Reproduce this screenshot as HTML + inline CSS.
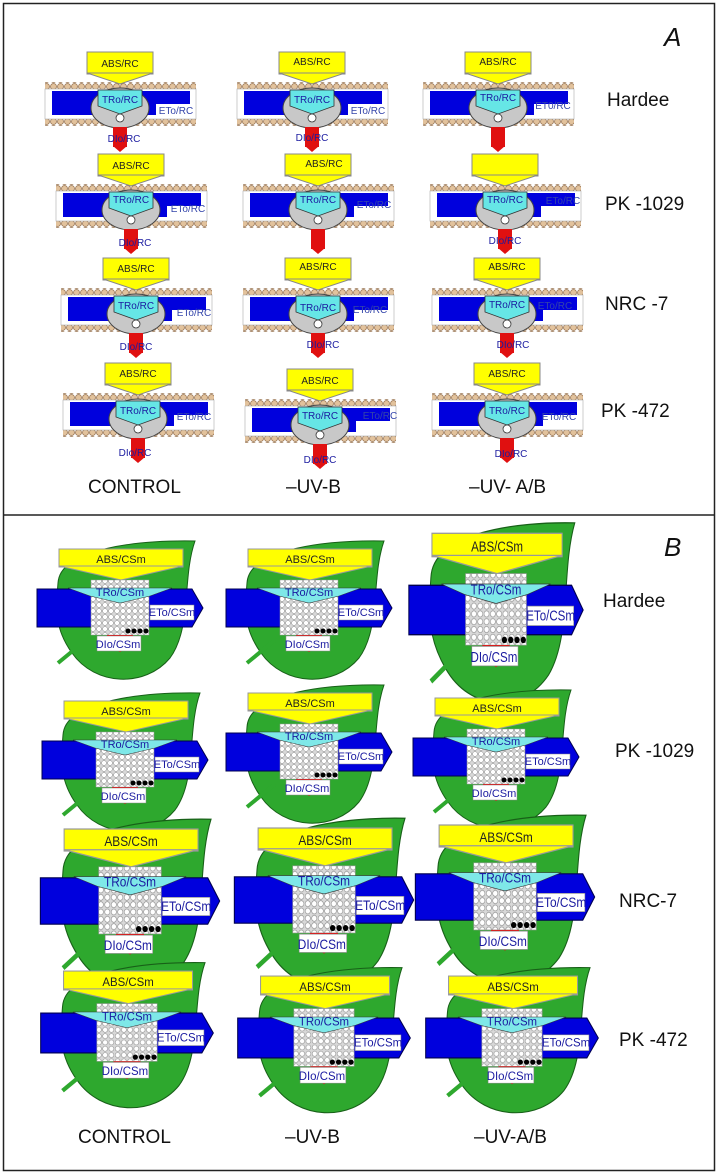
<!DOCTYPE html>
<html><head><meta charset="utf-8"><style>
html,body{margin:0;padding:0;background:#fff;}
svg{display:block;font-family:"Liberation Sans",sans-serif;}
.l{font-size:19px;fill:#111;}
.a{font-size:10px;fill:#222;text-anchor:middle;}
.t{font-size:10px;fill:#1a1aa0;text-anchor:middle;}
.e{font-size:10px;fill:#3344aa;text-anchor:middle;}
.d{font-size:10px;fill:#1a1aa0;text-anchor:middle;}
.b{font-size:11px;fill:#222;text-anchor:middle;}
.tb{font-size:11px;fill:#1a1aa0;text-anchor:middle;}
</style></head><body>
<svg width="720" height="1176" viewBox="0 0 720 1176" xmlns="http://www.w3.org/2000/svg">
<defs>
<pattern id="bead" width="7" height="7" patternUnits="userSpaceOnUse"><circle cx="3.5" cy="3.5" r="3" fill="#e2c29c" stroke="#9a7653" stroke-width="0.8"/></pattern>
<pattern id="grid" width="6" height="6" patternUnits="userSpaceOnUse"><rect width="6" height="6" fill="#d8d8d8"/><circle cx="3" cy="3" r="2.4" fill="#fff" stroke="#888" stroke-width="0.5"/></pattern>
<g id="cA">
<rect x="-75" y="-22" width="151" height="7" fill="url(#bead)"/>
<rect x="-75" y="15" width="151" height="7" fill="url(#bead)"/>
<rect x="-75" y="-15" width="151" height="30" fill="#fff" stroke="#aaa" stroke-width="0.6"/>
<rect x="-68" y="-13" width="138" height="24" fill="#0000dd"/>
<rect x="36" y="0" width="34" height="13" fill="#fff"/>
<rect x="-33" y="-52" width="66" height="22" fill="#ffff00" stroke="#888"/>
<polygon points="-33,-31 33,-31 0,-20" fill="#ffff00" stroke="#888"/>
<ellipse cx="0" cy="4" rx="29" ry="20" fill="#c8c8c8" stroke="#444"/>
<polygon points="-22,-14 22,-14 22,2 0,10 -22,2" fill="#66e6e6" stroke="#333" stroke-width="0.8"/>
<circle cx="0" cy="14" r="4" fill="#fff" stroke="#333" stroke-width="0.8"/>
<rect x="-7" y="23" width="14" height="20" fill="#e01010"/>
<polygon points="-7,42 7,42 0,48" fill="#e01010"/>
</g>
<g id="cB">
<path d="M-62,-25 C-60,-60 20,-68 75,-67 C62,-30 72,20 50,50 C25,80 -25,78 -48,45 C-66,20 -64,0 -62,-25 Z" fill="#2ea82e" stroke="#186018"/>
<line x1="-62" y1="55" x2="-34" y2="32" stroke="#2ea82e" stroke-width="4"/>
<polygon points="-83,-19 72,-19 83,0 72,19 -83,19" fill="#0000dd" stroke="#000050"/>
<rect x="-61" y="-59" width="124" height="18" fill="#ffff00" stroke="#999"/>
<polygon points="-61,-42 63,-42 1,-28" fill="#ffff00" stroke="#999"/>
<rect x="-29" y="-28" width="58" height="55" fill="url(#grid)" stroke="#999" stroke-width="0.5"/>
<polygon points="-52,-20 52,-20 30,-12 0,-5 -30,-12" fill="#7ee8e8" stroke="#333" stroke-width="0.5"/>
<rect x="-13" y="27" width="26" height="10" fill="#e01010"/>
<polygon points="-13,36 13,36 0,44" fill="#e01010"/>
<rect x="-23" y="28" width="44" height="15" fill="#fff" stroke="#888" stroke-width="0.5"/>
<rect x="30" y="-3" width="44" height="15" fill="#fff" stroke="#888" stroke-width="0.5"/>
<circle cx="8" cy="23" r="2.5" fill="#000"/><circle cx="14" cy="23" r="2.5" fill="#000"/><circle cx="20" cy="23" r="2.5" fill="#000"/><circle cx="26" cy="23" r="2.5" fill="#000"/>
</g>
</defs>
<rect x="3.5" y="3.5" width="711" height="1167" fill="none" stroke="#222" stroke-width="1.5"/>
<line x1="3" y1="515" x2="715" y2="515" stroke="#222" stroke-width="1.5"/>
<text x="664" y="46" font-size="26" font-style="italic" fill="#111">A</text>
<text x="664" y="556" font-size="26" font-style="italic" fill="#111">B</text>

<!-- Panel A -->
<g transform="translate(120,104)"><use href="#cA"/><text class="a" x="0" y="-37">ABS/RC</text><text class="t" x="0" y="-1">TRo/RC</text><text class="e" x="56" y="10">ETo/RC</text><text class="d" x="4" y="38">DIo/RC</text></g>
<g transform="translate(312,104)"><use href="#cA"/><text class="a" x="0" y="-39">ABS/RC</text><text class="t" x="0" y="-1">TRo/RC</text><text class="e" x="56" y="10">ETo/RC</text><text class="d" x="0" y="37">DIo/RC</text></g>
<g transform="translate(498,104)"><use href="#cA"/><text class="a" x="0" y="-39">ABS/RC</text><text class="t" x="0" y="-3">TRo/RC</text><text class="e" x="55" y="5">ET0/RC</text></g>
<g transform="translate(131,206)"><use href="#cA"/><text class="a" x="0" y="-37">ABS/RC</text><text class="t" x="0" y="-3">TRo/RC</text><text class="e" x="57" y="6">ETo/RC</text><text class="d" x="4" y="40">DIo/RC</text></g>
<g transform="translate(318,206)"><use href="#cA"/><text class="a" x="6" y="-39">ABS/RC</text><text class="t" x="0" y="-3">TRo/RC</text><text class="e" x="56" y="2">ETo/RC</text></g>
<g transform="translate(505,206)"><use href="#cA"/><text class="t" x="0" y="-3">TRo/RC</text><text class="e" x="58" y="-2">ETo/RC</text><text class="d" x="0" y="38">DIo/RC</text></g>
<g transform="translate(136,310)"><use href="#cA"/><text class="a" x="0" y="-38">ABS/RC</text><text class="t" x="0" y="-1">TRo/RC</text><text class="e" x="58" y="6">ETo/RC</text><text class="d" x="0" y="40">DIo/RC</text></g>
<g transform="translate(318,310)"><use href="#cA"/><text class="a" x="0" y="-40">ABS/RC</text><text class="t" x="0" y="1">TRo/RC</text><text class="e" x="52" y="3">ETo/RC</text><text class="d" x="5" y="38">DIo/RC</text></g>
<g transform="translate(507,310)"><use href="#cA"/><text class="a" x="0" y="-40">ABS/RC</text><text class="t" x="0" y="-2">TRo/RC</text><text class="e" x="48" y="-1">ETo/RC</text><text class="d" x="6" y="38">DIo/RC</text></g>
<g transform="translate(138,415)"><use href="#cA"/><text class="a" x="0" y="-38">ABS/RC</text><text class="t" x="0" y="-1">TRo/RC</text><text class="e" x="56" y="5">ETo/RC</text><text class="d" x="-3" y="41">DIo/RC</text></g>
<g transform="translate(320,421)"><use href="#cA"/><text class="a" x="0" y="-37">ABS/RC</text><text class="t" x="0" y="-2">TRo/RC</text><text class="e" x="60" y="-2">ETo/RC</text><text class="d" x="0" y="42">DIo/RC</text></g>
<g transform="translate(507,415)"><use href="#cA"/><text class="a" x="0" y="-38">ABS/RC</text><text class="t" x="0" y="-1">TRo/RC</text><text class="e" x="52" y="5">ETo/RC</text><text class="d" x="4" y="42">DIo/RC</text></g>
<text class="l" x="607" y="106">Hardee</text>
<text class="l" x="605" y="210">PK -1029</text>
<text class="l" x="605" y="310">NRC -7</text>
<text class="l" x="601" y="417">PK -472</text>
<text class="l" x="88" y="493">CONTROL</text>
<text class="l" x="286" y="493">–UV-B</text>
<text class="l" x="469" y="493">–UV- A/B</text>

<!-- Panel B -->
<g transform="translate(120,608)"><use href="#cB"/><text class="b" x="1" y="-45">ABS/CSm</text><text class="tb" x="0" y="-12">TRo/CSm</text><text class="tb" x="52" y="8">ETo/CSm</text><text class="tb" x="-2" y="40">DIo/CSm</text></g>
<g transform="translate(309,608)"><use href="#cB"/><text class="b" x="1" y="-45">ABS/CSm</text><text class="tb" x="0" y="-12">TRo/CSm</text><text class="tb" x="52" y="8">ETo/CSm</text><text class="tb" x="-2" y="40">DIo/CSm</text></g>
<g transform="translate(496,610) scale(1.05,1.3)"><use href="#cB"/><text class="b" x="1" y="-45">ABS/CSm</text><text class="tb" x="0" y="-12">TRo/CSm</text><text class="tb" x="52" y="8">ETo/CSm</text><text class="tb" x="-2" y="40">DIo/CSm</text></g>
<g transform="translate(125,760)"><use href="#cB"/><text class="b" x="1" y="-45">ABS/CSm</text><text class="tb" x="0" y="-12">TRo/CSm</text><text class="tb" x="52" y="8">ETo/CSm</text><text class="tb" x="-2" y="40">DIo/CSm</text></g>
<g transform="translate(309,752)"><use href="#cB"/><text class="b" x="1" y="-45">ABS/CSm</text><text class="tb" x="0" y="-12">TRo/CSm</text><text class="tb" x="52" y="8">ETo/CSm</text><text class="tb" x="-2" y="40">DIo/CSm</text></g>
<g transform="translate(496,757)"><use href="#cB"/><text class="b" x="1" y="-45">ABS/CSm</text><text class="tb" x="0" y="-12">TRo/CSm</text><text class="tb" x="52" y="8">ETo/CSm</text><text class="tb" x="-2" y="40">DIo/CSm</text></g>
<g transform="translate(130,901) scale(1.08,1.22)"><use href="#cB"/><text class="b" x="1" y="-45">ABS/CSm</text><text class="tb" x="0" y="-12">TRo/CSm</text><text class="tb" x="52" y="8">ETo/CSm</text><text class="tb" x="-2" y="40">DIo/CSm</text></g>
<g transform="translate(324,900) scale(1.08,1.22)"><use href="#cB"/><text class="b" x="1" y="-45">ABS/CSm</text><text class="tb" x="0" y="-12">TRo/CSm</text><text class="tb" x="52" y="8">ETo/CSm</text><text class="tb" x="-2" y="40">DIo/CSm</text></g>
<g transform="translate(505,897) scale(1.08,1.22)"><use href="#cB"/><text class="b" x="1" y="-45">ABS/CSm</text><text class="tb" x="0" y="-12">TRo/CSm</text><text class="tb" x="52" y="8">ETo/CSm</text><text class="tb" x="-2" y="40">DIo/CSm</text></g>
<g transform="translate(127,1033) scale(1.04,1.05)"><use href="#cB"/><text class="b" x="1" y="-45">ABS/CSm</text><text class="tb" x="0" y="-12">TRo/CSm</text><text class="tb" x="52" y="8">ETo/CSm</text><text class="tb" x="-2" y="40">DIo/CSm</text></g>
<g transform="translate(324,1038) scale(1.04,1.05)"><use href="#cB"/><text class="b" x="1" y="-45">ABS/CSm</text><text class="tb" x="0" y="-12">TRo/CSm</text><text class="tb" x="52" y="8">ETo/CSm</text><text class="tb" x="-2" y="40">DIo/CSm</text></g>
<g transform="translate(512,1038) scale(1.04,1.05)"><use href="#cB"/><text class="b" x="1" y="-45">ABS/CSm</text><text class="tb" x="0" y="-12">TRo/CSm</text><text class="tb" x="52" y="8">ETo/CSm</text><text class="tb" x="-2" y="40">DIo/CSm</text></g>
<text class="l" x="603" y="607">Hardee</text>
<text class="l" x="615" y="757">PK -1029</text>
<text class="l" x="619" y="907">NRC-7</text>
<text class="l" x="619" y="1046">PK -472</text>
<text class="l" x="78" y="1143">CONTROL</text>
<text class="l" x="285" y="1143">–UV-B</text>
<text class="l" x="474" y="1143">–UV-A/B</text>
</svg>
</body></html>
